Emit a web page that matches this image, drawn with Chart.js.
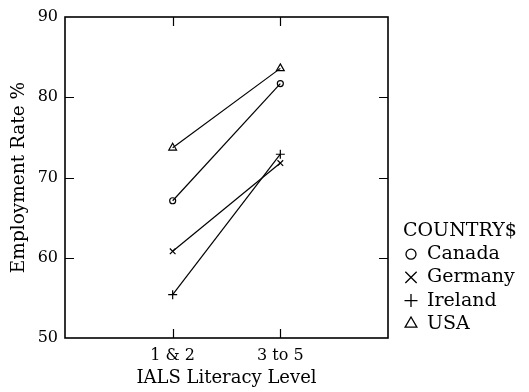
<!DOCTYPE html>
<html>
<head>
<meta charset="utf-8">
<script src="https://cdn.jsdelivr.net/npm/chart.js@4.4.1/dist/chart.umd.min.js"></script>
<style>
  html, body { margin: 0; padding: 0; background: #fff; }
  #wrap { width: 529px; height: 392px; }
</style>
</head>
<body>
<div id="wrap"><canvas id="chart" width="529" height="392"></canvas></div>
<script>
// ---------- data ----------
const levels = ["1 & 2", "3 to 5"];
const countries = ["Canada", "Germany", "Ireland", "USA"];
const canada = [67.1, 81.7];
const germany = [60.8, 71.8];
const ireland = [55.4, 72.9];
const usa = [73.7, 83.6];
const yTicks = [50, 60, 70, 80, 90];

const FONT = "'DejaVu Serif', 'Liberation Serif', serif";
const series = [canada, germany, ireland, usa];
const styles = ["circle", "crossRot", "cross", "triangle"];
const radii = [3, 4, 4.5, 4.5];
const legendRadii = [5, 8, 6.5, 6.8];

const datasets = series.map((vals, i) => ({
  label: countries[i],
  data: vals.map((v, j) => ({ x: j + 1, y: v })),
  borderColor: "#000",
  borderWidth: 1.2,
  pointStyle: styles[i],
  pointRadius: radii[i],
  pointBorderWidth: 1.2,
  pointBorderColor: "#000",
  pointBackgroundColor: "rgba(0,0,0,0)",
  fill: false,
}));

// frame + inward ticks
const framePlugin = {
  id: "frame",
  afterDraw(chart) {
    const { ctx, chartArea: a } = chart;
    const xs = chart.scales.x, ys = chart.scales.y;
    const len = 9;
    ctx.save();
    ctx.strokeStyle = "#000";
    ctx.lineWidth = 1.6;
    ctx.strokeRect(a.left, a.top, a.right - a.left, a.bottom - a.top);
    ctx.lineWidth = 1.2;
    ctx.beginPath();
    yTicks.slice(1, -1).forEach((v) => {
      const y = Math.round(ys.getPixelForValue(v)) + 0.5;
      ctx.moveTo(a.left, y); ctx.lineTo(a.left + len, y);
      ctx.moveTo(a.right, y); ctx.lineTo(a.right - len, y);
    });
    levels.forEach((_, j) => {
      const x = Math.round(xs.getPixelForValue(j + 1)) + 0.5;
      ctx.moveTo(x, a.top); ctx.lineTo(x, a.top + len);
      ctx.moveTo(x, a.bottom); ctx.lineTo(x, a.bottom - len);
    });
    ctx.stroke();
    ctx.restore();
  },
};

// legend on the right, built from the datasets
const legendPlugin = {
  id: "sideLegend",
  afterDraw(chart) {
    const { ctx } = chart;
    const x0 = 403, symX = 411, textX = 427, y0 = 231, step = 23.2;
    ctx.save();
    ctx.font = "19px " + FONT;
    ctx.textBaseline = "middle";
    ctx.textAlign = "left";
    ctx.fillStyle = "#000";
    ctx.fillText("COUNTRY$", x0, y0);
    chart.data.datasets.forEach((ds, i) => {
      const y = y0 + step * (i + 1);
      ctx.strokeStyle = "#000";
      ctx.fillStyle = "rgba(0,0,0,0)";
      ctx.lineWidth = 1.3;
      Chart.helpers.drawPoint(ctx, { pointStyle: ds.pointStyle, radius: legendRadii[i], borderWidth: 1.3 }, symX, y);
      ctx.fillStyle = "#000";
      ctx.fillText(ds.label, textX, y);
    });
    ctx.restore();
  },
};

new Chart(document.getElementById("chart"), {
  type: "line",
  data: { datasets },
  plugins: [framePlugin, legendPlugin],
  options: {
    responsive: false,
    animation: false,
    layout: { padding: { top: 17, right: 141, left: 0, bottom: 0 } },
    plugins: { legend: { display: false }, tooltip: { enabled: false } },
    scales: {
      x: {
        type: "linear",
        min: 0,
        max: levels.length + 1,
        afterBuildTicks: (s) => { s.ticks = levels.map((_, j) => ({ value: j + 1 })); },
        afterFit: (s) => { s.height = 54; },
        grid: { display: false, drawTicks: false },
        border: { display: false },
        ticks: {
          color: "#000",
          font: { family: FONT, size: 16 },
          padding: 8,
          maxRotation: 0,
          callback: (v) => levels[v - 1] || "",
        },
        title: {
          display: true,
          text: "IALS Literacy Level",
          color: "#000",
          font: { family: FONT, size: 18 },
          padding: { top: 0, bottom: 3 },
        },
      },
      y: {
        min: 50,
        max: 90,
        afterBuildTicks: (s) => { s.ticks = yTicks.map((v) => ({ value: v })); },
        afterFit: (s) => { s.width = 65; },
        grid: { display: false, drawTicks: false },
        border: { display: false },
        ticks: {
          color: "#000",
          font: { family: FONT, size: 16 },
          padding: 7,
        },
        title: {
          display: true,
          text: "Employment Rate %",
          color: "#000",
          font: { family: FONT, size: 18.5 },
          padding: { top: 8, bottom: 0 },
        },
      },
    },
  },
});
</script>
</body>
</html>
